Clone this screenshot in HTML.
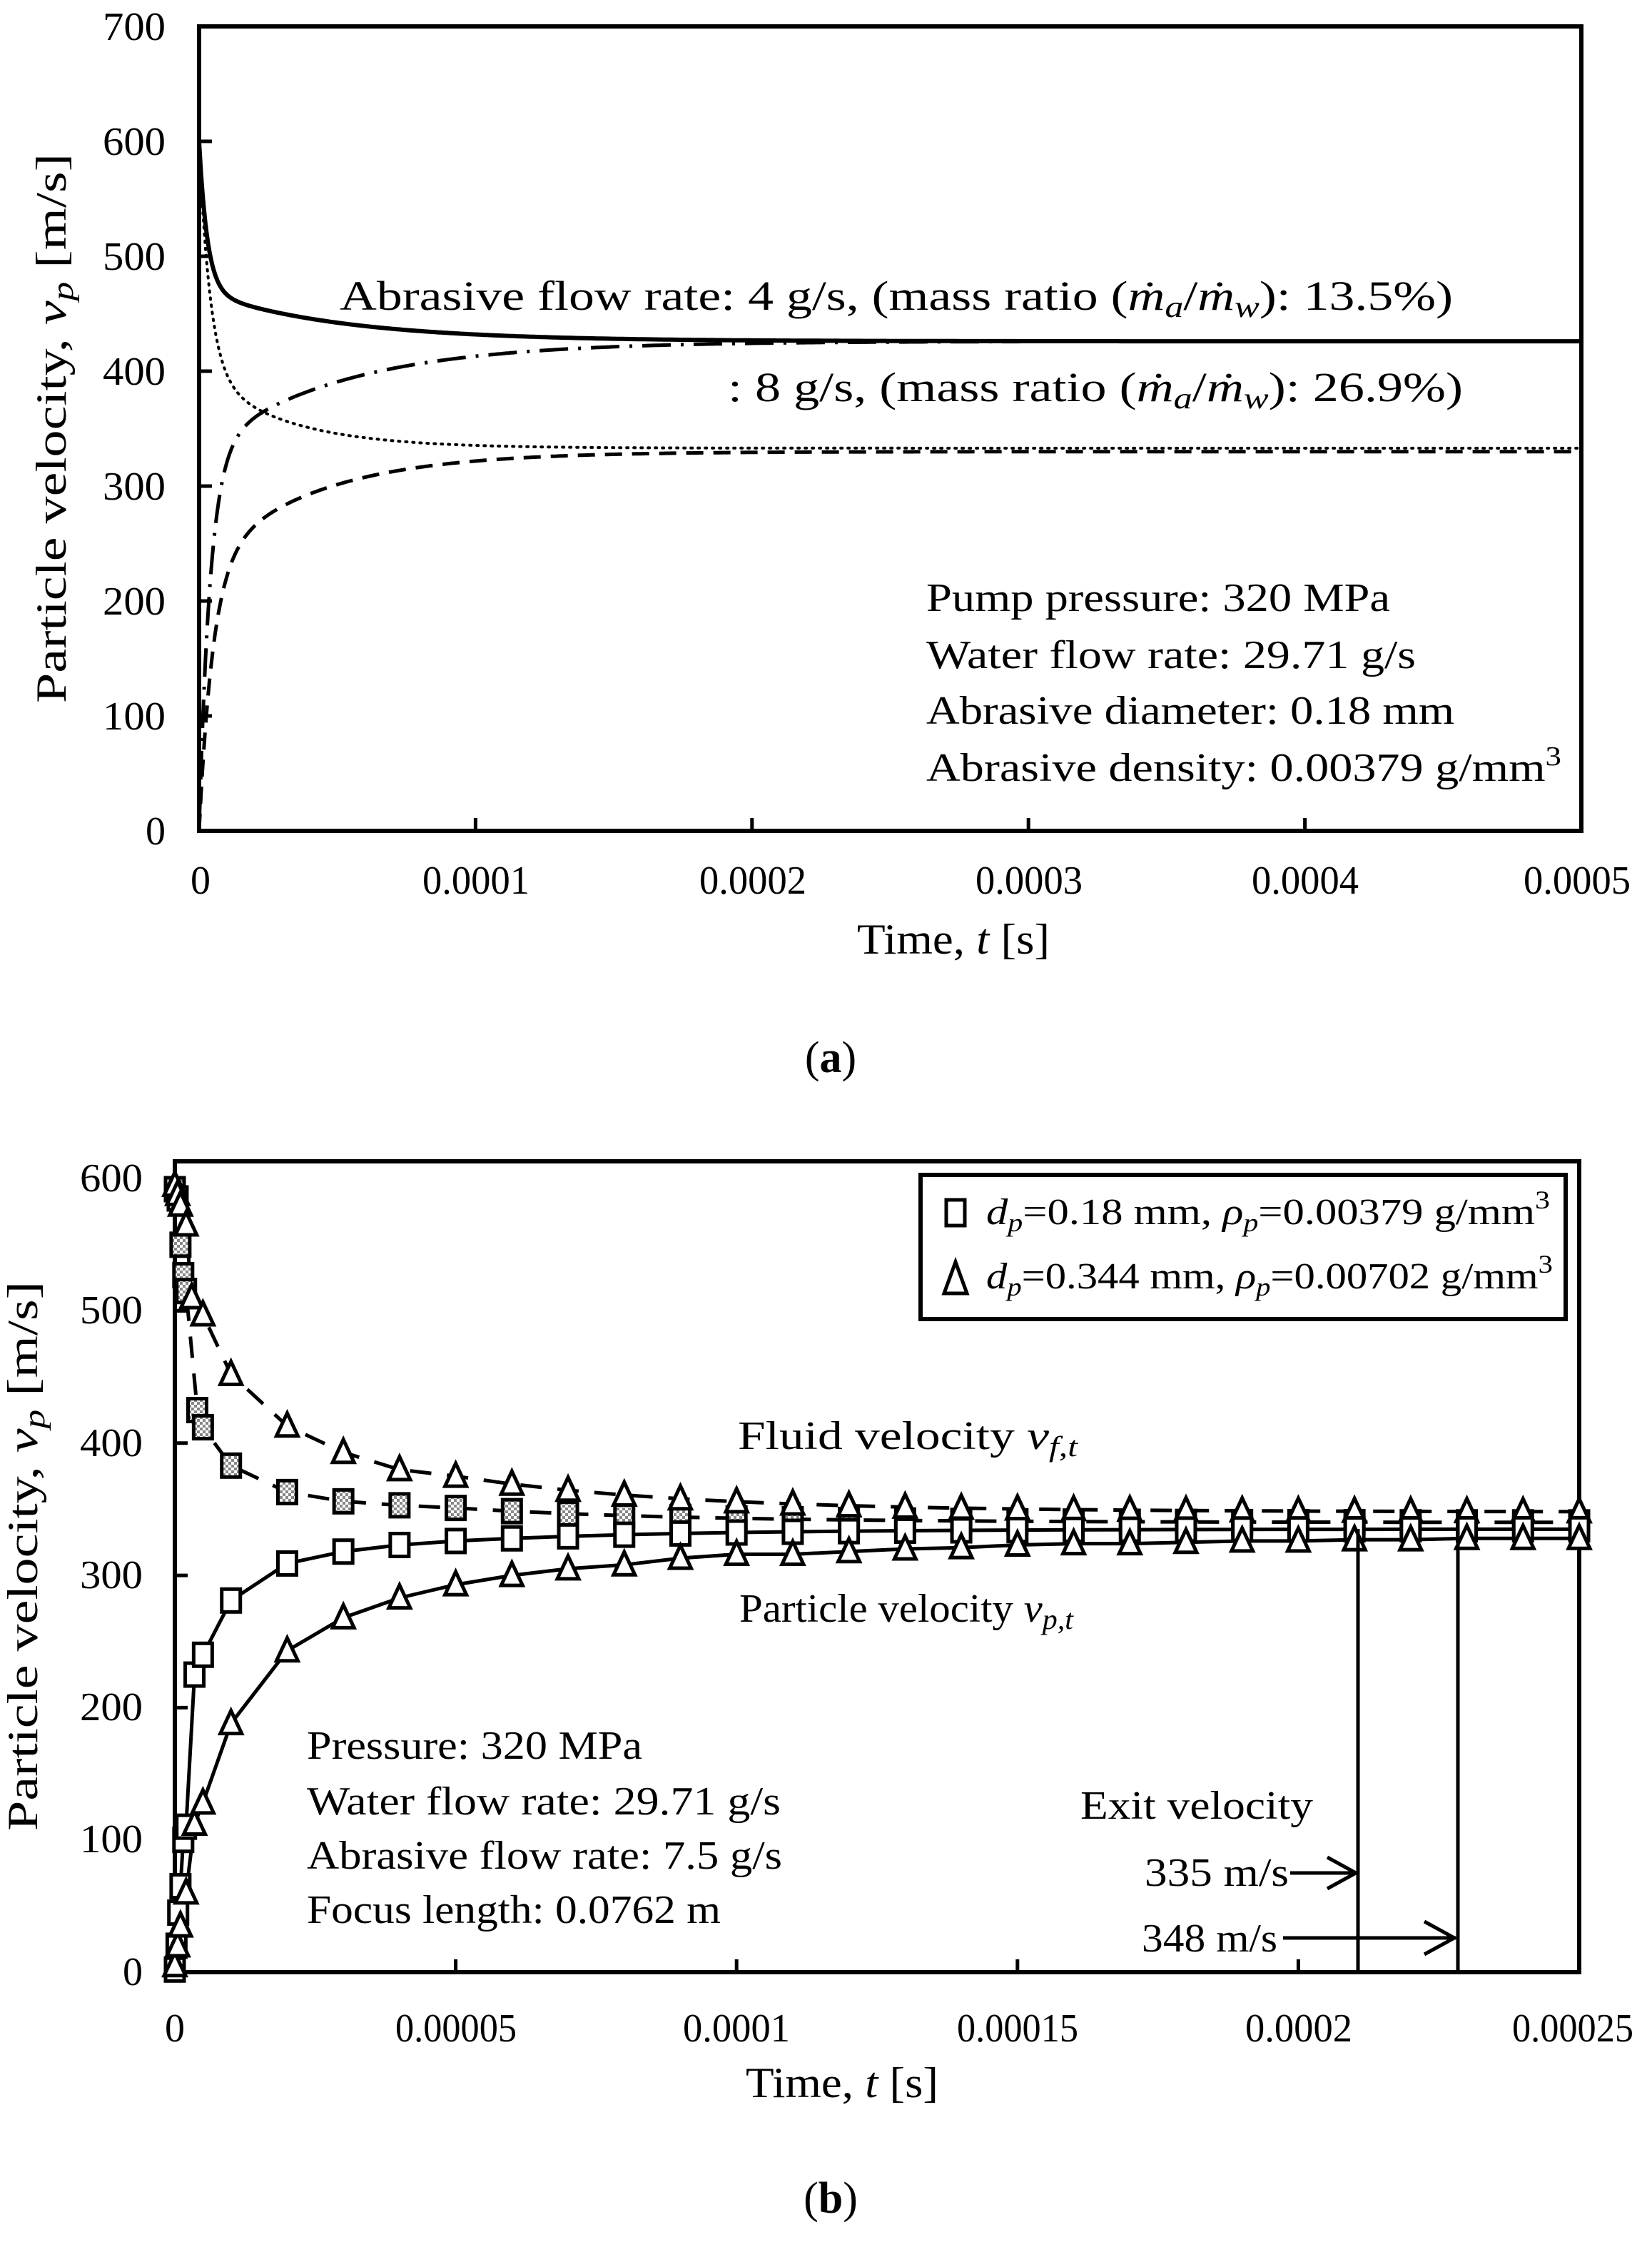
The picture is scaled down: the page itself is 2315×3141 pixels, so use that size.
<!DOCTYPE html>
<html><head><meta charset="utf-8"><style>
html,body{margin:0;padding:0;background:#fff;}
svg{display:block;}
text{font-family:"Liberation Serif",serif;fill:#000;}
.t{font-size:56px;}
.a{font-size:60px;}
</style></head><body>
<svg id="s" width="2315" height="3141" viewBox="0 0 2315 3141" xmlns="http://www.w3.org/2000/svg">
<defs>
<pattern id="chk" width="8" height="8" patternUnits="userSpaceOnUse">
<rect width="8" height="8" fill="#fff"/><rect width="4" height="4" fill="#888"/><rect x="4" y="4" width="4" height="4" fill="#888"/>
</pattern>
</defs>
<!-- Panel a -->
<rect x="279" y="37" width="1937" height="1127" fill="none" stroke="#000" stroke-width="6"/>
<g id="ticksA"></g>
<g class="t" text-anchor="end">
<text x="232" y="56" textLength="88" lengthAdjust="spacingAndGlyphs">700</text><text x="232" y="217" textLength="88" lengthAdjust="spacingAndGlyphs">600</text><text x="232" y="378" textLength="88" lengthAdjust="spacingAndGlyphs">500</text>
<text x="232" y="539" textLength="88" lengthAdjust="spacingAndGlyphs">400</text><text x="232" y="700" textLength="88" lengthAdjust="spacingAndGlyphs">300</text><text x="232" y="861" textLength="88" lengthAdjust="spacingAndGlyphs">200</text>
<text x="232" y="1022" textLength="88" lengthAdjust="spacingAndGlyphs">100</text><text x="232" y="1183">0</text>
</g>
<g class="t" text-anchor="middle">
<text x="281" y="1252">0</text><text x="667" y="1252" textLength="150" lengthAdjust="spacingAndGlyphs">0.0001</text><text x="1055" y="1252" textLength="150" lengthAdjust="spacingAndGlyphs">0.0002</text>
<text x="1442" y="1252" textLength="150" lengthAdjust="spacingAndGlyphs">0.0003</text><text x="1829" y="1252" textLength="150" lengthAdjust="spacingAndGlyphs">0.0004</text><text x="2210" y="1252" textLength="150" lengthAdjust="spacingAndGlyphs">0.0005</text>
</g>
<text class="a" x="1336" y="1336" text-anchor="middle" textLength="270" lengthAdjust="spacingAndGlyphs">Time, <tspan font-style="italic">t</tspan> [s]</text>
<text class="a" transform="translate(92,600) rotate(-90)" text-anchor="middle" textLength="770" lengthAdjust="spacingAndGlyphs">Particle velocity, <tspan font-style="italic">v</tspan><tspan font-style="italic" font-size="42" dy="10">p</tspan><tspan dy="-10"> [m/s]</tspan></text>
<text x="1164" y="1502" text-anchor="middle" font-size="62">(<tspan font-weight="bold">a</tspan>)</text>
<text x="476" y="434" font-size="58" textLength="1560" lengthAdjust="spacingAndGlyphs">Abrasive flow rate: 4 g/s, (mass ratio (<tspan font-style="italic">ṁ</tspan><tspan font-style="italic" font-size="42" dy="10">a</tspan><tspan dy="-10">/</tspan><tspan font-style="italic">ṁ</tspan><tspan font-style="italic" font-size="42" dy="10">w</tspan><tspan dy="-10">): 13.5%)</tspan></text>
<text x="1020" y="562" font-size="58" textLength="1030" lengthAdjust="spacingAndGlyphs">: 8 g/s, (mass ratio (<tspan font-style="italic">ṁ</tspan><tspan font-style="italic" font-size="42" dy="10">a</tspan><tspan dy="-10">/</tspan><tspan font-style="italic">ṁ</tspan><tspan font-style="italic" font-size="42" dy="10">w</tspan><tspan dy="-10">): 26.9%)</tspan></text>
<g font-size="56">
<text x="1298" y="856" textLength="650" lengthAdjust="spacingAndGlyphs">Pump pressure: 320 MPa</text>
<text x="1298" y="936" textLength="686" lengthAdjust="spacingAndGlyphs">Water flow rate: 29.71  g/s</text>
<text x="1298" y="1014" textLength="740" lengthAdjust="spacingAndGlyphs">Abrasive diameter: 0.18  mm</text>
<text x="1298" y="1094" textLength="890" lengthAdjust="spacingAndGlyphs">Abrasive density: 0.00379  g/mm<tspan font-size="38" dy="-22">3</tspan></text>
</g>
<g id="curvesA" fill="none" stroke="#000"></g>

<!-- Panel b -->
<rect x="245" y="1627" width="1968" height="1136" fill="none" stroke="#000" stroke-width="6"/>
<g id="ticksB"></g>
<g class="t" text-anchor="end">
<text x="200" y="1669" textLength="88" lengthAdjust="spacingAndGlyphs">600</text><text x="200" y="1854" textLength="88" lengthAdjust="spacingAndGlyphs">500</text><text x="200" y="2040" textLength="88" lengthAdjust="spacingAndGlyphs">400</text>
<text x="200" y="2225" textLength="88" lengthAdjust="spacingAndGlyphs">300</text><text x="200" y="2410" textLength="88" lengthAdjust="spacingAndGlyphs">200</text><text x="200" y="2595" textLength="88" lengthAdjust="spacingAndGlyphs">100</text>
<text x="200" y="2781">0</text>
</g>
<g class="t" text-anchor="middle">
<text x="245" y="2860">0</text><text x="639" y="2860" textLength="170" lengthAdjust="spacingAndGlyphs">0.00005</text><text x="1032" y="2860" textLength="150" lengthAdjust="spacingAndGlyphs">0.0001</text>
<text x="1426" y="2860" textLength="170" lengthAdjust="spacingAndGlyphs">0.00015</text><text x="1820" y="2860" textLength="150" lengthAdjust="spacingAndGlyphs">0.0002</text><text x="2204" y="2860" textLength="170" lengthAdjust="spacingAndGlyphs">0.00025</text>
</g>
<text class="a" x="1180" y="2938" text-anchor="middle" textLength="270" lengthAdjust="spacingAndGlyphs">Time, <tspan font-style="italic">t</tspan> [s]</text>
<text class="a" transform="translate(52,2180) rotate(-90)" text-anchor="middle" textLength="770" lengthAdjust="spacingAndGlyphs">Particle velocity, <tspan font-style="italic">v</tspan><tspan font-style="italic" font-size="42" dy="10">p</tspan><tspan dy="-10"> [m/s]</tspan></text>
<text x="1164" y="3100" text-anchor="middle" font-size="62">(<tspan font-weight="bold">b</tspan>)</text>
<g id="curvesB"></g>
<!-- legend -->
<rect x="1290" y="1646" width="904" height="202" fill="#fff" stroke="#000" stroke-width="6"/>
<rect x="1326" y="1681" width="26" height="36" fill="#fff" stroke="#000" stroke-width="5"/>
<polygon points="1323,1812 1339,1768 1355,1812" fill="#fff" stroke="#000" stroke-width="5"/>
<g font-size="52">
<text x="1382" y="1715" textLength="790" lengthAdjust="spacingAndGlyphs"><tspan font-style="italic">d</tspan><tspan font-style="italic" font-size="36" dy="10">p</tspan><tspan dy="-10">=0.18 mm, </tspan><tspan font-style="italic">ρ</tspan><tspan font-style="italic" font-size="36" dy="10">p</tspan><tspan dy="-10">=0.00379 g/mm</tspan><tspan font-size="36" dy="-22">3</tspan></text>
<text x="1382" y="1805" textLength="794" lengthAdjust="spacingAndGlyphs"><tspan font-style="italic">d</tspan><tspan font-style="italic" font-size="36" dy="10">p</tspan><tspan dy="-10">=0.344 mm, </tspan><tspan font-style="italic">ρ</tspan><tspan font-style="italic" font-size="36" dy="10">p</tspan><tspan dy="-10">=0.00702 g/mm</tspan><tspan font-size="36" dy="-22">3</tspan></text>
</g>
<g font-size="56">
<text x="1034" y="2030" textLength="476" lengthAdjust="spacingAndGlyphs">Fluid velocity <tspan font-style="italic">v</tspan><tspan font-style="italic" font-size="40" dy="10">f,t</tspan></text>
<text x="1036" y="2272" textLength="468" lengthAdjust="spacingAndGlyphs">Particle velocity <tspan font-style="italic">v</tspan><tspan font-style="italic" font-size="40" dy="10">p,t</tspan></text>
<text x="430" y="2464" textLength="470" lengthAdjust="spacingAndGlyphs">Pressure: 320  MPa</text>
<text x="430" y="2542" textLength="664" lengthAdjust="spacingAndGlyphs">Water flow rate: 29.71  g/s</text>
<text x="430" y="2618" textLength="666" lengthAdjust="spacingAndGlyphs">Abrasive flow rate: 7.5  g/s</text>
<text x="430" y="2694" textLength="580" lengthAdjust="spacingAndGlyphs">Focus length: 0.0762  m</text>
<text x="1514" y="2548" textLength="326" lengthAdjust="spacingAndGlyphs">Exit velocity</text>
<text x="1604" y="2642" textLength="202" lengthAdjust="spacingAndGlyphs">335 m/s</text>
<text x="1600" y="2734" textLength="190" lengthAdjust="spacingAndGlyphs">348 m/s</text>
</g>
<g stroke="#000" stroke-width="5" fill="none">
<line x1="1903" y1="2142" x2="1903" y2="2763"/>
<line x1="2043" y1="2118" x2="2043" y2="2763"/>
<line x1="1808" y1="2624" x2="1900" y2="2624"/>
<polyline points="1860,2602 1900,2624 1860,2646"/>
<line x1="1798" y1="2715" x2="2040" y2="2715"/>
<polyline points="1996,2692 2038,2715 1996,2738"/>
</g>
</svg>
<script>
var NS="http://www.w3.org/2000/svg";
function el(p,n,a){var e=document.createElementNS(NS,n);for(var k in a)e.setAttribute(k,a[k]);p.appendChild(e);return e;}
var ta=document.getElementById("ticksA");
for(var i=1;i<7;i++){var y=1164-i*161;el(ta,"line",{x1:279,y1:y,x2:297,y2:y,stroke:"#000","stroke-width":5});}
for(var i=1;i<5;i++){var x=279+i*387.4;el(ta,"line",{x1:x,y1:1164,x2:x,y2:1146,stroke:"#000","stroke-width":5});}
var tb=document.getElementById("ticksB");
for(var i=1;i<6;i++){var y=2763-i*185.3;el(tb,"line",{x1:245,y1:y,x2:263,y2:y,stroke:"#000","stroke-width":5});}
for(var i=1;i<5;i++){var x=245+i*393.6;el(tb,"line",{x1:x,y1:2763,x2:x,y2:2745,stroke:"#000","stroke-width":5});}
function XA(t){return 279+t*3874000;} function YA(v){return 1164-1.61*v;}
var fa=[
 [function(t){return 426+130*Math.exp(-t/3e-6)+44*Math.exp(-t/5e-5);},{"stroke-width":6}],
 [function(t){return 333+200*Math.exp(-t/4e-6)+67*Math.exp(-t/3e-5);},{"stroke-width":4,"stroke-dasharray":"2 8","stroke-linecap":"round"}],
 [function(t){return 426-330*Math.exp(-t/4e-6)-96*Math.exp(-t/5e-5);},{"stroke-width":5,"stroke-dasharray":"40 14 4 14"}],
 [function(t){return 330-230*Math.exp(-t/5e-6)-100*Math.exp(-t/4e-5);},{"stroke-width":5,"stroke-dasharray":"24 14"}]
];
var ca=document.getElementById("curvesA");
fa.forEach(function(c){var d="";for(var i=0;i<=600;i++){var t=0.0005*Math.pow(i/600,2);d+=(i?"L":"M")+XA(t).toFixed(1)+","+YA(c[0](t)).toFixed(1);}
 var a={d:d};for(var k in c[1])a[k]=c[1][k];el(ca,"path",a);});
function XB(t){return 245+t*7872000;} function YB(v){return 2763-1.853*v;}
function tail(v0,v1,n0){var r=[];for(var k=n0;k<=25;k++){r.push([k*1e-5,v1+(v0-v1)*Math.exp(-(k-n0)/4)]);}return r;}
var sqF=[[0,592],[0.5e-6,585],[1e-6,550],[1.5e-6,527],[2e-6,515],[4e-6,425],[5e-6,412],[1e-5,383],[2e-5,363],[3e-5,356],[4e-5,353]].concat(tail(351,340,5));
var sqP=[[0,2],[0.3e-6,20],[0.6e-6,45],[1e-6,65],[1.5e-6,100],[2e-6,110],[3.5e-6,225],[5e-6,240],[1e-5,281],[2e-5,309],[3e-5,318],[4e-5,323]].concat(tail(326,335,5));
var trF=[[0,595],[0.5e-6,588],[1e-6,580],[2e-6,565],[3e-6,510],[5e-6,497],[1e-5,452],[2e-5,413],[3e-5,393],[4e-5,380]].concat(tail(375,348,5));
var trP=[[0,5],[0.5e-6,20],[1e-6,35],[2e-6,60],[3.5e-6,112],[5e-6,128],[1e-5,188],[2e-5,243],[3e-5,268],[4e-5,283],[5e-5,293],[6e-5,300],[7e-5,305],[8e-5,308],[9e-5,313],[1e-4,316],[1.1e-4,316],[1.2e-4,318],[1.3e-4,320],[1.4e-4,321],[1.5e-4,323],[1.6e-4,324],[1.7e-4,324],[1.8e-4,325],[1.9e-4,326],[2e-4,326],[2.1e-4,327],[2.2e-4,327],[2.3e-4,328],[2.4e-4,328],[2.5e-4,328]];
var cb=document.getElementById("curvesB");
function line(pts,dash){var d="";pts.forEach(function(p,i){d+=(i?"L":"M")+XB(p[0]).toFixed(1)+","+YB(p[1]).toFixed(1);});
 var a={d:d,fill:"none",stroke:"#000","stroke-width":5};if(dash)a["stroke-dasharray"]=dash;el(cb,"path",a);}
line(sqF,"30 22");line(trF,"30 22");line(sqP);line(trP);
function sq(pts,fill){pts.forEach(function(p){el(cb,"rect",{x:XB(p[0])-13,y:YB(p[1])-16,width:26,height:32,fill:fill,stroke:"#000","stroke-width":5});});}
function tri(pts,fill){pts.forEach(function(p){var x=XB(p[0]),y=YB(p[1]);el(cb,"polygon",{points:(x-15)+","+(y+14)+" "+x+","+(y-18)+" "+(x+15)+","+(y+14),fill:fill,stroke:"#000","stroke-width":5});});}
sq(sqF,"url(#chk)");tri(trF,"#fff");sq(sqP,"#fff");tri(trP,"#fff");
</script>
</body></html>
